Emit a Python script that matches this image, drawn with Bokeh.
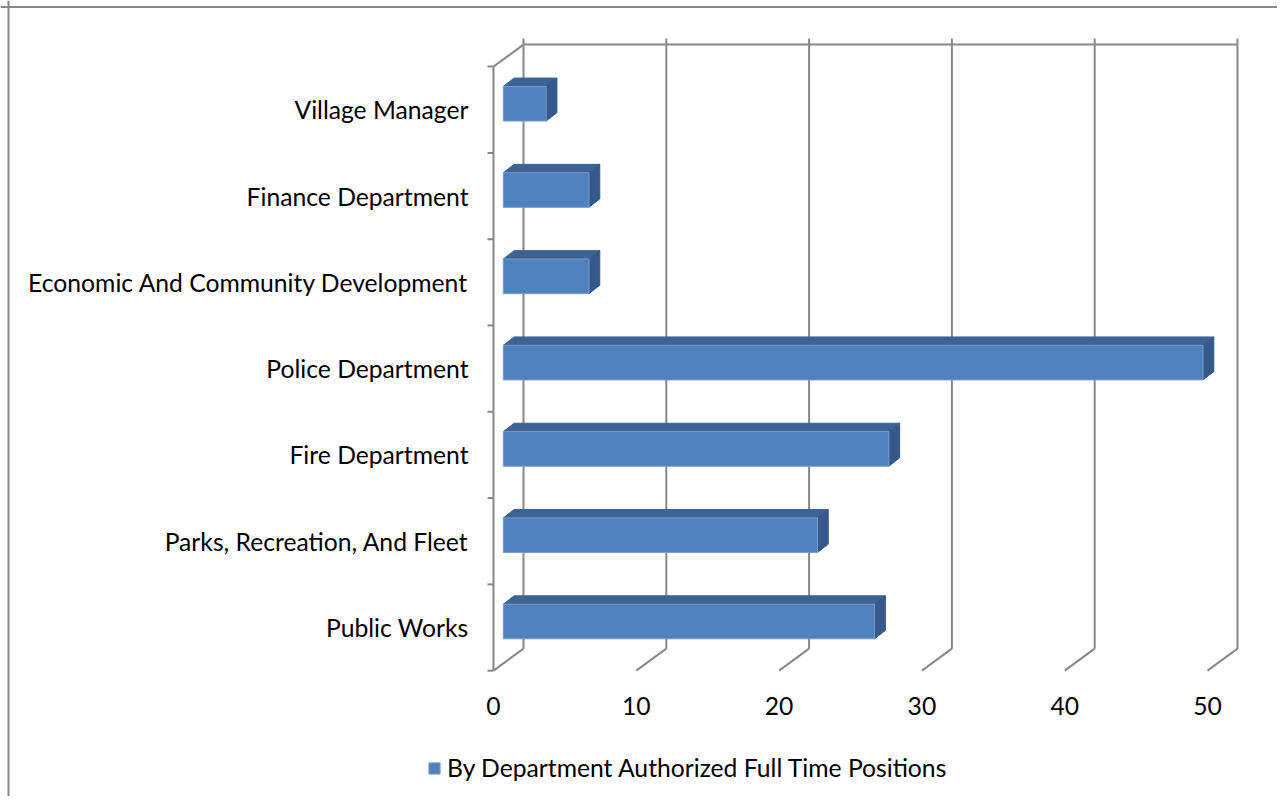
from bokeh.plotting import figure
from bokeh.models import Span, Legend, LegendItem, Range1d
from bokeh.core.properties import value
from bokeh.embed import file_html
from bokeh.resources import INLINE

# ---- data ----
categories = ["Public Works", "Parks, Recreation, And Fleet", "Fire Department",
              "Police Department", "Economic And Community Development",
              "Finance Department", "Village Manager"]
values = [26, 22, 27, 49, 6, 6, 3]
x_ticks = [0, 10, 20, 30, 40, 50]
x_tick_labels = ["0", "10", "20", "30", "40", "50"]
series_name = "By Department Authorized Full Time Positions"

# ---- layout (pixels -> data units) ----
W, H = 1277, 796
UX = 14.28          # px per value unit
UY = 86.29          # px per category
X0_PX = 493         # canvas px of value 0 on front plane
Y0_PX = 627         # canvas px of first category centre on front plane
x_start, x_end = -X0_PX / UX, (W - X0_PX) / UX
y_start, y_end = -(H - Y0_PX) / UY, Y0_PX / UY

DX, DY = 30 / UX, 22 / UY            # back-wall depth offset
EXT = 6 / UY                          # gridline overshoot above wall
BFX, BFY = 9.8 / UX, 6.0 / UY         # bar front-face offset
BDX, BDY = 10.8 / UX, 8.4 / UY        # bar depth
BH = 34.6 / UY                        # bar height
TICK = 6 / UX
LABEL_GAP = 25 / UX
XL_GAP = 35 / UY

GRID = "#888888"
FRONT = "#4f81bd"
TOP = "#3d6393"
SIDE = "#35598a"
FONT = "Lato"
FS = "24.7px"

n = len(categories)
nt = len(x_ticks)
ybot, ytop = -0.5, n - 0.5

p = figure(width=W, height=H, x_range=Range1d(x_start, x_end), y_range=Range1d(y_start, y_end),
           x_axis_type=None, y_axis_type=None, output_backend="svg", toolbar_location=None,
           min_border=0)
p.grid.visible = False
p.outline_line_color = None
p.background_fill_color = "white"
p.border_fill_color = "white"

# back wall gridlines
back_x = [t + DX for t in x_ticks]
p.segment(x0=back_x, y0=[ybot + DY] * nt, x1=back_x, y1=[ytop + DY + EXT] * nt,
          line_color=GRID, line_width=2)
p.segment(x0=[x_ticks[0] + DX], y0=[ytop + DY], x1=[x_ticks[-1] + DX], y1=[ytop + DY],
          line_color=GRID, line_width=2)
# floor diagonals
p.segment(x0=x_ticks, y0=[ybot] * nt, x1=back_x, y1=[ybot + DY] * nt,
          line_color=GRID, line_width=2)
# left wall
p.segment(x0=[x_ticks[0]], y0=[ytop], x1=[x_ticks[0] + DX], y1=[ytop + DY],
          line_color=GRID, line_width=2)
p.segment(x0=[x_ticks[0]], y0=[ybot], x1=[x_ticks[0]], y1=[ytop],
          line_color=GRID, line_width=2)
bounds = [i - 0.5 for i in range(n + 1)]
p.segment(x0=[x_ticks[0] - TICK] * len(bounds), y0=bounds, x1=[x_ticks[0]] * len(bounds), y1=bounds,
          line_color=GRID, line_width=2)

# bars
ys = list(range(n))
lefts = [BFX] * n
rights = [v + BFX for v in values]
bottoms = [y - BH / 2 + BFY for y in ys]
tops = [y + BH / 2 + BFY for y in ys]

top_xs = [[l, r, r + BDX, l + BDX] for l, r in zip(lefts, rights)]
top_ys = [[t, t, t + BDY, t + BDY] for t in tops]
side_xs = [[r, r + BDX, r + BDX, r] for r in rights]
side_ys = [[b, b + BDY, t + BDY, t] for b, t in zip(bottoms, tops)]
p.patches(xs=top_xs, ys=top_ys, fill_color=TOP, line_color=TOP, line_width=1)
p.patches(xs=side_xs, ys=side_ys, fill_color=SIDE, line_color=SIDE, line_width=1)
front = p.quad(left=lefts, right=rights, bottom=bottoms, top=tops,
               fill_color=FRONT, line_color="#7a9ccb", line_width=1)

# category labels
p.text(x=[x_ticks[0] - LABEL_GAP] * n, y=ys, text=categories, text_align="right",
       text_baseline="middle", text_font=value(FONT), text_font_size=FS, text_color="black")
# value labels
p.text(x=x_ticks, y=[ybot - XL_GAP] * nt, text=x_tick_labels, text_align="center",
       text_baseline="middle", text_font=value(FONT), text_font_size=FS, text_color="black")

# legend
legend = Legend(items=[LegendItem(label=series_name, renderers=[front])], location=(427, 14),
                orientation="horizontal", border_line_color=None, background_fill_alpha=0,
                padding=0, margin=0, glyph_width=14, glyph_height=14, label_standoff=6,
                label_text_font=FONT, label_text_font_size=FS, label_text_color="black")
p.add_layout(legend)

# chart border (left/top visible)
p.add_layout(Span(location=x_start + 8 / UX, dimension="height", line_color=GRID, line_width=2))
p.add_layout(Span(location=y_end - 6.5 / UY, dimension="width", line_color=GRID, line_width=2))

open("out.html", "w").write(file_html(p, INLINE))
